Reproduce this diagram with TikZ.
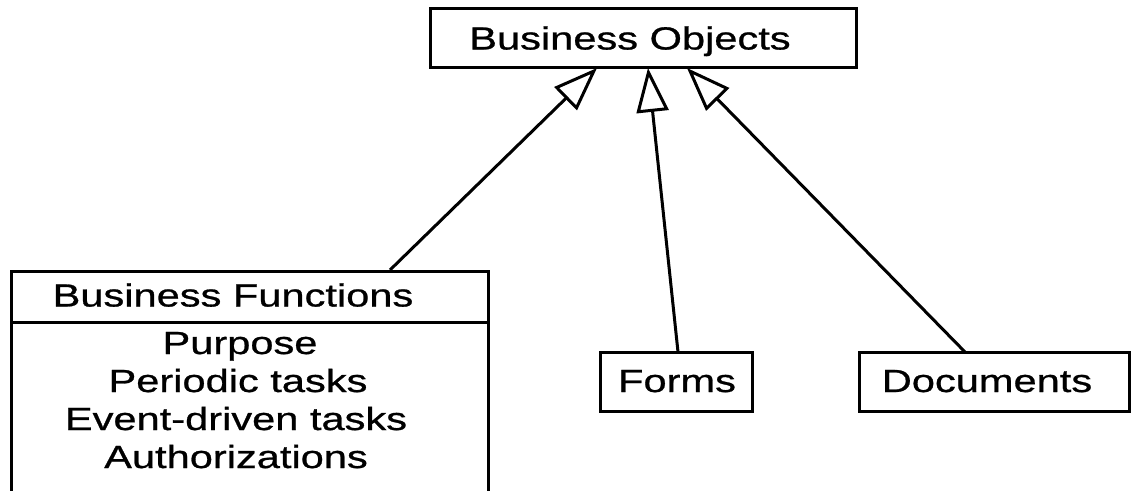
\documentclass[tikz,border=0pt]{standalone}
\usepackage{fontspec}
\setmainfont{Liberation Sans}[FakeStretch=1.3, FakeBold=0.8]
\usetikzlibrary{arrows.meta}
\begin{document}
\begin{tikzpicture}[x=1pt,y=-1pt,
  boxline/.style={draw=black, line width=3pt, line join=miter},
  lbl/.style={anchor=base, inner sep=0pt, font=\fontsize{32}{38}\selectfont},
  gen/.style={draw=black, line width=3pt, -{Triangle[open, length=44pt, width=32pt, line width=3pt]}}
]
\clip (0,0) rectangle (1131,490);
% boxes
\node[boxline, minimum width=426pt, minimum height=59pt, inner sep=0pt] (bo) at (643,38) {};
\node[boxline, minimum width=477pt, minimum height=240pt, inner sep=0pt, anchor=north west] (bf) at (10,270) {};
\node[boxline, minimum width=152pt, minimum height=59pt, inner sep=0pt] (fo) at (676,382) {};
\node[boxline, minimum width=270pt, minimum height=59pt, inner sep=0pt] (doc) at (994,382) {};
% divider
\coordinate (dl) at (10,322);
\coordinate (dr) at (487,322);
\draw[boxline] (dl) -- (dr);
% texts
\node[lbl] (bot) at (630,49.5) {Business Objects};
\node[lbl] (bft) at (233,306.5) {Business Functions};
\node[lbl] (p1) at (240,354) {Purpose};
\node[lbl] (p2) at (238,392) {Periodic tasks};
\node[lbl] (p3) at (236,430) {Event-driven tasks};
\node[lbl] (p4) at (236,468) {Authorizations};
\node[lbl] (fot) at (677,392) {Forms};
\node[lbl] (doct) at (987,392) {Documents};
% connector ends
\coordinate (s1) at (390,270);
\coordinate (t1) at (597,68);
\coordinate (s2) at (678,352);
\coordinate (t2) at (648,68);
\coordinate (s3) at (965,352);
\coordinate (t3) at (687,68);
\draw[gen] (s1) -- (t1);
\draw[gen] (s2) -- (t2);
\draw[gen] (s3) -- (t3);
\end{tikzpicture}
\end{document}
